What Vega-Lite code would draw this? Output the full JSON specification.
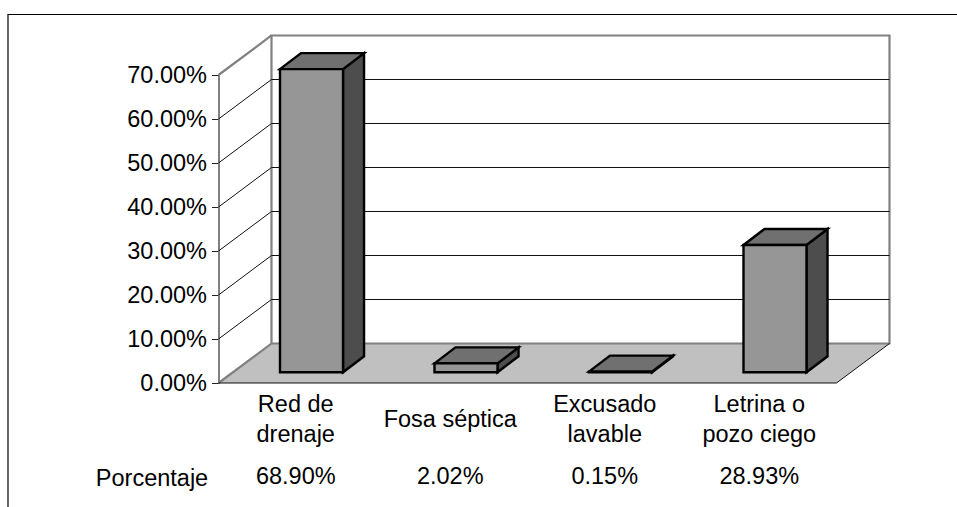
{
"$schema":"https://vega.github.io/schema/vega-lite/v6.json",
"width":957,"height":507,"padding":0,"autosize":"none","background":"white",
"config":{"view":{"stroke":null},"font":"Liberation Sans"},
"datasets":{
"categories":[
{"category":"Red de\ndrenaje","value":0.689,"labelPos":-0.05},
{"category":"Fosa séptica","value":0.0202,"labelPos":-0.084},
{"category":"Excusado\nlavable","value":0.0015,"labelPos":-0.05},
{"category":"Letrina o\npozo ciego","value":0.2893,"labelPos":-0.05}],
"floor":[{"u":0,"v":0,"v2":0},{"u":0.343,"v":0.0898,"v2":0},{"u":4,"v":0.0898,"v2":0},{"u":4.343,"v":0.0898,"v2":0.0898}],
"faces":[
{"part":"a","face":"side","u":0.806,"v":0.7133,"v2":0.0243},{"part":"a","face":"side","u":0.942,"v":0.7497,"v2":0.0607},
{"part":"a","face":"top","u":0.398,"v":0.7133,"v2":0.7133},{"part":"a","face":"top","u":0.534,"v":0.7497,"v2":0.7133},{"part":"a","face":"top","u":0.806,"v":0.7497,"v2":0.7133},{"part":"a","face":"top","u":0.942,"v":0.7497,"v2":0.7497},
{"part":"b","face":"side","u":1.806,"v":0.0445,"v2":0.0243},{"part":"b","face":"side","u":1.942,"v":0.0809,"v2":0.0607},
{"part":"b","face":"top","u":1.398,"v":0.0445,"v2":0.0445},{"part":"b","face":"top","u":1.534,"v":0.0809,"v2":0.0445},{"part":"b","face":"top","u":1.806,"v":0.0809,"v2":0.0445},{"part":"b","face":"top","u":1.942,"v":0.0809,"v2":0.0809},
{"part":"c","face":"side","u":2.806,"v":0.0258,"v2":0.0243},{"part":"c","face":"side","u":2.942,"v":0.0622,"v2":0.0607},
{"part":"c","face":"top","u":2.398,"v":0.0258,"v2":0.0258},{"part":"c","face":"top","u":2.534,"v":0.0622,"v2":0.0258},{"part":"c","face":"top","u":2.806,"v":0.0622,"v2":0.0258},{"part":"c","face":"top","u":2.942,"v":0.0622,"v2":0.0622},
{"part":"d","face":"side","u":3.806,"v":0.3136,"v2":0.0243},{"part":"d","face":"side","u":3.942,"v":0.35,"v2":0.0607},
{"part":"d","face":"top","u":3.398,"v":0.3136,"v2":0.3136},{"part":"d","face":"top","u":3.534,"v":0.35,"v2":0.3136},{"part":"d","face":"top","u":3.806,"v":0.35,"v2":0.3136},{"part":"d","face":"top","u":3.942,"v":0.35,"v2":0.35}],
"frame":[
{"s":"wall","k":0,"u":0,"v":0},{"s":"wall","k":1,"u":0.343,"v":0.0898},{"s":"wall","k":2,"u":4.343,"v":0.0898},{"s":"wall","k":3,"u":4.343,"v":0.7898},{"s":"wall","k":4,"u":0.343,"v":0.7898},{"s":"wall","k":5,"u":0.343,"v":0.0898},
{"s":"edge","k":0,"u":0,"v":0.7},{"s":"edge","k":1,"u":0.343,"v":0.7898}],
"grid":[
{"t":"10","k":0,"u":0,"v":0.1},{"t":"10","k":1,"u":0.343,"v":0.1898},{"t":"10","k":2,"u":4.343,"v":0.1898},
{"t":"20","k":0,"u":0,"v":0.2},{"t":"20","k":1,"u":0.343,"v":0.2898},{"t":"20","k":2,"u":4.343,"v":0.2898},
{"t":"30","k":0,"u":0,"v":0.3},{"t":"30","k":1,"u":0.343,"v":0.3898},{"t":"30","k":2,"u":4.343,"v":0.3898},
{"t":"40","k":0,"u":0,"v":0.4},{"t":"40","k":1,"u":0.343,"v":0.4898},{"t":"40","k":2,"u":4.343,"v":0.4898},
{"t":"50","k":0,"u":0,"v":0.5},{"t":"50","k":1,"u":0.343,"v":0.5898},{"t":"50","k":2,"u":4.343,"v":0.5898},
{"t":"60","k":0,"u":0,"v":0.6},{"t":"60","k":1,"u":0.343,"v":0.6898},{"t":"60","k":2,"u":4.343,"v":0.6898},
{"t":"floor","k":0,"u":0,"v":0},{"t":"floor","k":1,"u":4,"v":0},{"t":"floor","k":2,"u":4.343,"v":0.0898}],
"border":[{"k":0,"u":-1.3625,"v":-0.2818},{"k":1,"u":-1.3625,"v":0.8375},{"k":2,"u":4.78,"v":0.8375}]
},
"resolve":{"scale":{"x":"independent"}},
"layer":[
{"data":{"name":"border"},"mark":{"type":"line","color":"black","strokeWidth":1.2},
 "encoding":{"x":{"field":"u","type":"quantitative","axis":null,"scale":{"domain":[0,4],"range":[218.5,836.5],"nice":false,"zero":false}},
 "y":{"field":"v","type":"quantitative","scale":{"domain":[0,0.7],"range":[383,75],"nice":false,"zero":false},
  "axis":{"orient":"left","offset":-218.5,"values":[0,0.1,0.2,0.3,0.4,0.5,0.6,0.7],"format":".2%","title":null,"grid":false,"domainColor":"#808080","domainWidth":2,"tickColor":"#222222","tickSize":7,"tickWidth":1,"labelFontSize":23.5,"labelFont":"Liberation Sans","labelColor":"black","labelPadding":5,"labelLimit":200,"labelOverlap":false,"labelBound":false}},
 "order":{"field":"k"}}},
{"data":{"name":"floor"},"mark":{"type":"area","color":"#c0c0c0"},
 "encoding":{"x":{"field":"u","type":"quantitative","axis":null,"scale":{"domain":[0,4],"range":[218.5,836.5],"nice":false,"zero":false}},
 "y":{"field":"v","type":"quantitative"},"y2":{"field":"v2"}}},
{"data":{"name":"frame"},"mark":{"type":"line","color":"#808080","strokeWidth":2.2},
 "encoding":{"x":{"field":"u","type":"quantitative","axis":null,"scale":{"domain":[0,4],"range":[218.5,836.5],"nice":false,"zero":false}},
 "y":{"field":"v","type":"quantitative"},"detail":{"field":"s"},"order":{"field":"k"}}},
{"data":{"name":"grid"},"mark":{"type":"line","color":"#111111","strokeWidth":1},
 "encoding":{"x":{"field":"u","type":"quantitative","axis":null,"scale":{"domain":[0,4],"range":[218.5,836.5],"nice":false,"zero":false}},
 "y":{"field":"v","type":"quantitative"},"detail":{"field":"t"},"order":{"field":"k"}}},
{"data":{"name":"faces"},"mark":{"type":"area","stroke":"black","strokeWidth":2.4,"opacity":1},
 "encoding":{"x":{"field":"u","type":"quantitative","axis":null,"scale":{"domain":[0,4],"range":[218.5,836.5],"nice":false,"zero":false}},
 "y":{"field":"v","type":"quantitative"},"y2":{"field":"v2"},"detail":{"field":"part"},
 "color":{"field":"face","type":"nominal","legend":null,"scale":{"domain":["side","top"],"range":["#4d4d4d","#707070"]}}}},
{"data":{"name":"categories"},"mark":{"type":"bar","width":63,"xOffset":15.75,"x2Offset":15.75,"yOffset":-10.7,"y2Offset":-10.7,"color":"#969696","stroke":"black","strokeWidth":2.4,"opacity":1},
 "encoding":{"x":{"field":"category","type":"nominal","sort":null,"axis":null,"scale":{"type":"band","domain":["Red de\ndrenaje","Fosa séptica","Excusado\nlavable","Letrina o\npozo ciego"],"range":[218.5,836.5],"paddingInner":0,"paddingOuter":0}},
 "y":{"field":"value","type":"quantitative"},"y2":{"datum":0}}},
{"data":{"name":"categories"},"mark":{"type":"text","fontSize":23.5,"lineBreak":"\n","lineHeight":30,"baseline":"middle","align":"center","color":"black","font":"Liberation Sans"},
 "encoding":{"x":{"field":"category","type":"nominal","sort":null,"axis":null,"scale":{"type":"band","domain":["Red de\ndrenaje","Fosa séptica","Excusado\nlavable","Letrina o\npozo ciego"],"range":[218.5,836.5],"paddingInner":0,"paddingOuter":0}},
 "y":{"field":"labelPos","type":"quantitative"},"text":{"field":"category"}}},
{"data":{"name":"categories"},"mark":{"type":"text","fontSize":23.5,"baseline":"middle","align":"center","color":"black","font":"Liberation Sans"},
 "encoding":{"x":{"field":"category","type":"nominal","sort":null,"axis":null,"scale":{"type":"band","domain":["Red de\ndrenaje","Fosa séptica","Excusado\nlavable","Letrina o\npozo ciego"],"range":[218.5,836.5],"paddingInner":0,"paddingOuter":0}},
 "y":{"datum":-0.2125},"text":{"field":"value","format":".2%"}}},
{"data":{"values":[{"label":"Porcentaje","u":-0.4304,"v":-0.219}]},"mark":{"type":"text","fontSize":23.5,"baseline":"middle","align":"center","color":"black","font":"Liberation Sans"},
 "encoding":{"x":{"field":"u","type":"quantitative","axis":null,"scale":{"domain":[0,4],"range":[218.5,836.5],"nice":false,"zero":false}},
 "y":{"field":"v","type":"quantitative"},"text":{"field":"label"}}}
]
}
